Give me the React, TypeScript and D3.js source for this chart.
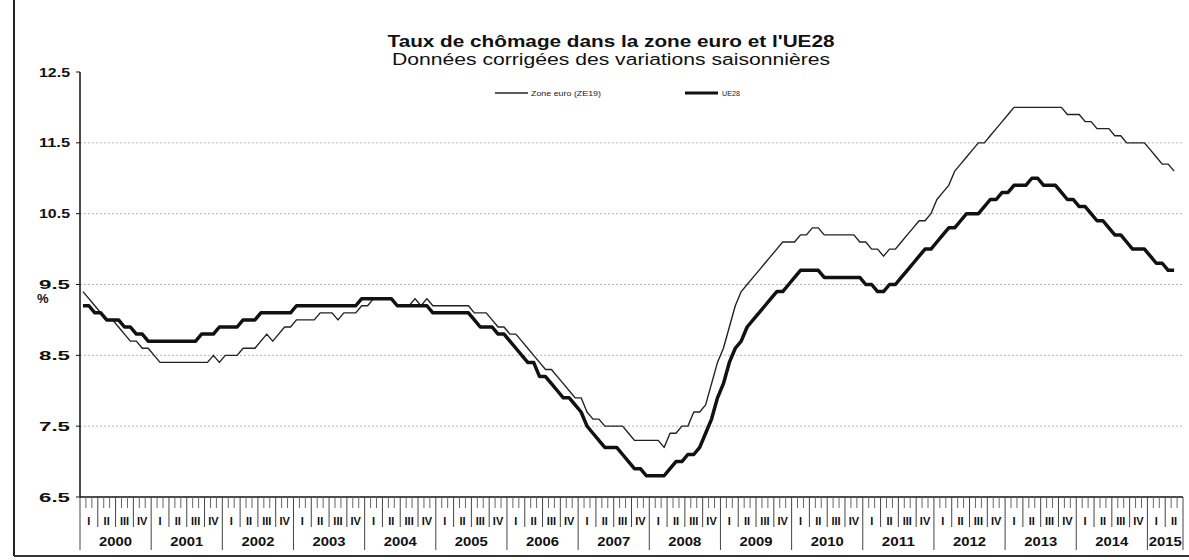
import React from "react";
import * as d3 from "d3";

// monthly unemployment rate, Jan 2000 - May 2015
const ze19 = [
  9.4, 9.3, 9.2, 9.1, 9.0, 9.0, 8.9, 8.8, 8.7, 8.7, 8.6, 8.6, // 2000
  8.5, 8.4, 8.4, 8.4, 8.4, 8.4, 8.4, 8.4, 8.4, 8.4, 8.5, 8.4, // 2001
  8.5, 8.5, 8.5, 8.6, 8.6, 8.6, 8.7, 8.8, 8.7, 8.8, 8.9, 8.9, // 2002
  9.0, 9.0, 9.0, 9.0, 9.1, 9.1, 9.1, 9.0, 9.1, 9.1, 9.1, 9.2, // 2003
  9.2, 9.3, 9.3, 9.3, 9.3, 9.2, 9.2, 9.2, 9.3, 9.2, 9.3, 9.2, // 2004
  9.2, 9.2, 9.2, 9.2, 9.2, 9.2, 9.1, 9.1, 9.1, 9.0, 8.9, 8.9, // 2005
  8.8, 8.8, 8.7, 8.6, 8.5, 8.4, 8.3, 8.3, 8.2, 8.1, 8.0, 7.9, // 2006
  7.9, 7.7, 7.6, 7.6, 7.5, 7.5, 7.5, 7.5, 7.4, 7.3, 7.3, 7.3, // 2007
  7.3, 7.3, 7.2, 7.4, 7.4, 7.5, 7.5, 7.7, 7.7, 7.8, 8.1, 8.4, // 2008
  8.6, 8.9, 9.2, 9.4, 9.5, 9.6, 9.7, 9.8, 9.9, 10.0, 10.1, 10.1, // 2009
  10.1, 10.2, 10.2, 10.3, 10.3, 10.2, 10.2, 10.2, 10.2, 10.2, 10.2, 10.1, // 2010
  10.1, 10.0, 10.0, 9.9, 10.0, 10.0, 10.1, 10.2, 10.3, 10.4, 10.4, 10.5, // 2011
  10.7, 10.8, 10.9, 11.1, 11.2, 11.3, 11.4, 11.5, 11.5, 11.6, 11.7, 11.8, // 2012
  11.9, 12.0, 12.0, 12.0, 12.0, 12.0, 12.0, 12.0, 12.0, 12.0, 11.9, 11.9, // 2013
  11.9, 11.8, 11.8, 11.7, 11.7, 11.7, 11.6, 11.6, 11.5, 11.5, 11.5, 11.5, // 2014
  11.4, 11.3, 11.2, 11.2, 11.1, // 2015
];

const ue28 = [
  9.2, 9.2, 9.1, 9.1, 9.0, 9.0, 9.0, 8.9, 8.9, 8.8, 8.8, 8.7, // 2000
  8.7, 8.7, 8.7, 8.7, 8.7, 8.7, 8.7, 8.7, 8.8, 8.8, 8.8, 8.9, // 2001
  8.9, 8.9, 8.9, 9.0, 9.0, 9.0, 9.1, 9.1, 9.1, 9.1, 9.1, 9.1, // 2002
  9.2, 9.2, 9.2, 9.2, 9.2, 9.2, 9.2, 9.2, 9.2, 9.2, 9.2, 9.3, // 2003
  9.3, 9.3, 9.3, 9.3, 9.3, 9.2, 9.2, 9.2, 9.2, 9.2, 9.2, 9.1, // 2004
  9.1, 9.1, 9.1, 9.1, 9.1, 9.1, 9.0, 8.9, 8.9, 8.9, 8.8, 8.8, // 2005
  8.7, 8.6, 8.5, 8.4, 8.4, 8.2, 8.2, 8.1, 8.0, 7.9, 7.9, 7.8, // 2006
  7.7, 7.5, 7.4, 7.3, 7.2, 7.2, 7.2, 7.1, 7.0, 6.9, 6.9, 6.8, // 2007
  6.8, 6.8, 6.8, 6.9, 7.0, 7.0, 7.1, 7.1, 7.2, 7.4, 7.6, 7.9, // 2008
  8.1, 8.4, 8.6, 8.7, 8.9, 9.0, 9.1, 9.2, 9.3, 9.4, 9.4, 9.5, // 2009
  9.6, 9.7, 9.7, 9.7, 9.7, 9.6, 9.6, 9.6, 9.6, 9.6, 9.6, 9.6, // 2010
  9.5, 9.5, 9.4, 9.4, 9.5, 9.5, 9.6, 9.7, 9.8, 9.9, 10.0, 10.0, // 2011
  10.1, 10.2, 10.3, 10.3, 10.4, 10.5, 10.5, 10.5, 10.6, 10.7, 10.7, 10.8, // 2012
  10.8, 10.9, 10.9, 10.9, 11.0, 11.0, 10.9, 10.9, 10.9, 10.8, 10.7, 10.7, // 2013
  10.6, 10.6, 10.5, 10.4, 10.4, 10.3, 10.2, 10.2, 10.1, 10.0, 10.0, 10.0, // 2014
  9.9, 9.8, 9.8, 9.7, 9.7, // 2015
];

const years = ["2000", "2001", "2002", "2003", "2004", "2005", "2006", "2007",
  "2008", "2009", "2010", "2011", "2012", "2013", "2014", "2015"];
const quarters = ["I", "II", "III", "IV"];
const yTicks = [6.5, 7.5, 8.5, 9.5, 10.5, 11.5, 12.5];
const gridTicks = [7.5, 8.5, 9.5, 10.5, 11.5];

const W = 1189, H = 560;
const nMonths = 186; // axis runs to end of 2015 Q2
const font = "'Liberation Sans', Arial, sans-serif";

export default function App() {
  const x = d3.scaleLinear().domain([0, nMonths]).range([80, 1183]);
  const y = d3.scaleLinear().domain([6.5, 12.5]).range([497, 72]);
  const line = d3.line<number>()
    .x((d, i) => x(i + 0.5))
    .y((d) => y(d));

  const axisY = y(6.5);
  const months = d3.range(0, nMonths + 1);

  return (
    <svg width={W} height={H} style={{ position: "absolute", left: 0, top: 0, background: "#fff" }}
      fontFamily={font}>
      {/* page frame */}
      <line x1={14} y1={0} x2={14} y2={556} stroke="#222" strokeWidth={2} />
      <line x1={14} y1={556} x2={W} y2={556} stroke="#333" strokeWidth={2} />

      {/* titles */}
      <text x={611} y={47} textAnchor="middle" fontSize={16} fontWeight="bold" fill="#111"
        textLength={447} lengthAdjust="spacingAndGlyphs">
        Taux de chômage dans la zone euro et l'UE28
      </text>
      <text x={611} y={65} textAnchor="middle" fontSize={16} fill="#111"
        textLength={438} lengthAdjust="spacingAndGlyphs">
        Données corrigées des variations saisonnières
      </text>

      {/* legend */}
      <line x1={495} y1={93} x2={528} y2={93} stroke="#222" strokeWidth={1.3} />
      <text x={531} y={95.5} fontSize={7} fill="#222" textLength={70} lengthAdjust="spacingAndGlyphs">
        Zone euro (ZE19)
      </text>
      <line x1={685} y1={93} x2={718} y2={93} stroke="#111" strokeWidth={3} />
      <text x={722} y={95.5} fontSize={7} fill="#222" textLength={18} lengthAdjust="spacingAndGlyphs">
        UE28
      </text>

      {/* grid */}
      {gridTicks.map((t) => (
        <line key={t} x1={x(0)} x2={x(nMonths)} y1={y(t)} y2={y(t)}
          stroke="#b5b5b5" strokeWidth={1} strokeDasharray="2,2" />
      ))}

      {/* y axis */}
      <line x1={x(0)} x2={x(0)} y1={y(12.5)} y2={axisY} stroke="#111" strokeWidth={1.5} />
      {yTicks.map((t) => (
        <g key={t}>
          <line x1={x(0) - 4} x2={x(0)} y1={y(t)} y2={y(t)} stroke="#111" strokeWidth={1} />
          <text x={70} y={y(t) + 4.5} textAnchor="end" fontSize={13} fontWeight="bold" fill="#111"
            textLength={31} lengthAdjust="spacingAndGlyphs">
            {t.toFixed(1)}
          </text>
        </g>
      ))}
      <text x={37} y={303} fontSize={13} fontWeight="bold" fill="#111">%</text>

      {/* x axis: months, quarters, years */}
      <line x1={x(0)} x2={x(nMonths)} y1={axisY} y2={axisY} stroke="#111" strokeWidth={1.5} />
      {months.map((m) => {
        const len = m % 12 === 0 || m === nMonths ? 53 : m % 3 === 0 ? 30 : 11;
        return (
          <line key={m} x1={x(m)} x2={x(m)} y1={axisY} y2={axisY + len}
            stroke={len > 11 ? "#444" : "#666"} strokeWidth={1} />
        );
      })}
      {years.map((yr, yi) =>
        quarters.map((q, qi) => {
          const start = yi * 12 + qi * 3;
          if (start >= nMonths) return null;
          return (
            <text key={yr + q} x={x(start + 1.5)} y={525} textAnchor="middle" fontSize={11}
              fontWeight="bold" fill="#111">
              {q}
            </text>
          );
        })
      )}
      {years.map((yr, yi) => {
        const s = yi * 12;
        const e = Math.min(s + 12, nMonths);
        return (
          <text key={yr} x={x((s + e) / 2)} y={546} textAnchor="middle" fontSize={13}
            fontWeight="bold" fill="#111" textLength={33} lengthAdjust="spacingAndGlyphs">
            {yr}
          </text>
        );
      })}

      {/* series */}
      <path d={line(ze19) ?? ""} fill="none" stroke="#222" strokeWidth={1.4} strokeLinejoin="round" />
      <path d={line(ue28) ?? ""} fill="none" stroke="#111" strokeWidth={3.5} strokeLinejoin="round" />
    </svg>
  );
}
